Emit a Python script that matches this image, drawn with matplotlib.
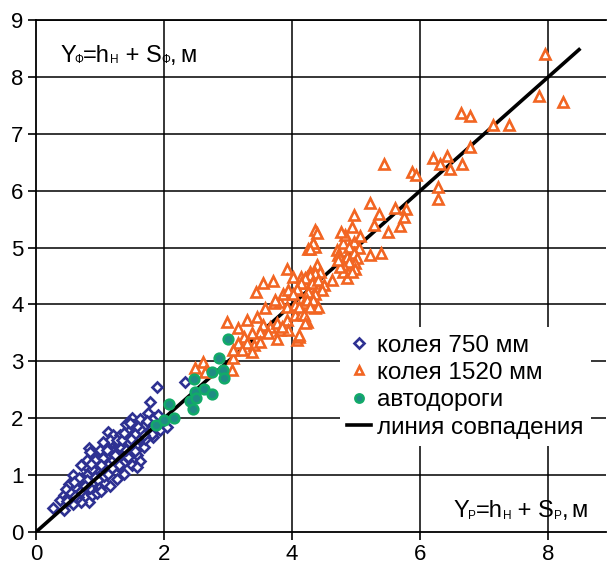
import matplotlib
matplotlib.use("Agg")
import matplotlib.pyplot as plt
from matplotlib.lines import Line2D
from matplotlib import transforms

plt.rcParams['font.family'] = ['Liberation Sans', 'DejaVu Sans']

# колея 750 мм
blue_x = [0.27, 0.44, 0.375, 0.43, 0.50, 0.56, 0.58, 0.64, 0.69, 0.74, 0.77, 0.82, 0.87, 0.90,
          0.92, 0.84, 0.79, 0.82, 1.00, 1.10, 1.16, 1.23, 1.21, 1.16, 1.03, 0.97, 1.08, 1.16,
          1.26, 1.29, 0.92, 0.71, 0.58, 0.66, 0.74, 0.79, 1.00, 0.90, 0.71, 1.89, 1.78, 1.50,
          1.63, 1.75, 1.13, 1.21, 1.31, 1.42, 1.52, 1.60, 1.70, 1.78, 1.89, 1.94, 1.75, 1.63,
          1.52, 1.42, 1.57, 1.68, 1.47, 1.36, 1.26, 1.16, 1.10, 1.21, 1.34, 1.44, 1.57, 1.63,
          1.50, 1.36, 1.00, 0.84, 0.79, 0.92, 1.05, 1.18, 1.29, 2.04, 2.33, 1.57, 1.83, 0.62,
          0.52, 0.47, 0.68, 0.85, 0.95, 1.06, 1.12, 1.38, 1.30, 1.45, 1.55, 1.70, 1.85, 1.40,
          1.05, 1.47, 1.60, 0.55, 0.61, 0.72, 0.80, 0.88, 0.98, 1.02, 1.13, 1.24, 1.33, 1.41,
          1.48, 1.66, 1.73, 1.81, 0.67, 0.76, 0.86, 0.95, 1.11, 1.19, 1.27, 1.35, 1.54, 1.69,
          0.49, 0.60, 1.02, 1.38, 1.90]
blue_y = [0.42, 0.39, 0.56, 0.65, 0.62, 0.74, 1.00, 0.91, 0.80, 0.71, 0.62, 0.53, 0.65, 0.86,
          0.97, 1.06, 1.15, 1.47, 1.38, 1.32, 1.56, 1.53, 1.27, 1.09, 1.06, 0.91, 0.86, 0.80,
          0.94, 1.15, 0.74, 0.53, 0.50, 0.62, 0.88, 1.00, 1.21, 1.30, 1.18, 2.55, 2.29, 2.00,
          1.98, 2.09, 1.76, 1.70, 1.70, 1.79, 1.88, 1.82, 1.88, 1.79, 1.88, 1.79, 1.73, 1.65,
          1.59, 1.65, 1.50, 1.50, 1.47, 1.53, 1.56, 1.62, 1.47, 1.41, 1.35, 1.32, 1.35, 1.24,
          1.18, 1.21, 1.44, 1.41, 1.27, 1.27, 1.30, 1.24, 1.18, 1.84, 2.63, 1.15, 1.67, 0.78,
          0.85, 0.75, 0.70, 0.78, 1.12, 0.98, 1.17, 1.02, 1.42, 1.58, 1.72, 1.63, 2.00, 1.90,
          1.58, 1.91, 1.85, 0.68, 0.64, 0.95, 0.92, 1.10, 0.78, 1.18, 1.02, 1.36, 1.48, 1.44,
          1.64, 1.78, 1.95, 1.72, 0.95, 0.80, 1.20, 0.68, 1.44, 1.12, 1.62, 1.62, 1.42, 1.70,
          0.55, 0.88, 0.72, 1.74, 2.05]

# колея 1520 мм
orange_x = [2.48, 2.60, 2.64, 3.06, 3.08, 2.98, 3.16, 3.29, 3.45, 3.58, 3.71, 3.81, 3.92, 4.05,
            3.55, 3.66, 3.50, 3.37, 3.24, 3.16, 3.29, 3.08, 3.21, 3.40, 3.37, 3.50, 3.63, 3.76,
            3.81, 3.92, 3.94, 4.05, 4.07, 4.25, 4.36, 3.92, 3.55, 3.70, 3.44, 3.73, 3.86, 3.94,
            4.07, 4.18, 4.23, 4.33, 4.13, 4.28, 4.39, 4.18, 4.13, 4.23, 4.36, 4.10, 3.76, 3.84,
            4.80, 4.96, 4.88, 5.04, 4.70, 4.72, 4.75, 4.85, 4.96, 5.01, 4.98, 4.88, 4.80, 4.80,
            4.85, 4.75, 4.72, 4.98, 4.93, 4.83, 4.39, 4.44, 4.36, 4.28, 4.20, 4.13, 4.07, 4.02,
            4.31, 4.41, 4.49, 4.46, 4.36, 4.25, 4.23, 4.33, 4.41, 4.28, 4.10, 4.18, 4.20, 4.10,
            4.62, 5.22, 5.39, 4.02, 5.21, 5.61, 5.78, 4.96, 5.36, 5.74, 5.28, 5.69, 4.93, 4.36,
            4.39, 4.77, 5.50, 5.06, 4.33, 4.28, 5.43, 5.87, 5.94, 7.95, 7.85, 8.23, 6.64, 6.78,
            7.14, 7.38, 6.78, 6.20, 6.42, 6.31, 6.47, 6.65, 6.28, 6.27]
orange_y = [2.88, 2.99, 2.82, 2.85, 3.05, 3.70, 3.58, 3.73, 3.78, 3.93, 4.02, 4.05, 3.96, 3.99,
            3.64, 3.61, 3.52, 3.49, 3.43, 3.32, 3.32, 3.20, 3.20, 3.29, 3.17, 3.34, 3.49, 3.67,
            3.55, 3.73, 3.55, 3.81, 3.37, 4.97, 5.01, 4.62, 4.37, 4.42, 4.21, 4.08, 4.19, 4.25,
            4.25, 4.37, 4.49, 4.43, 4.49, 4.57, 4.31, 4.02, 3.84, 3.70, 3.93, 3.43, 3.40, 3.61,
            5.08, 5.10, 5.01, 4.99, 4.96, 4.87, 4.81, 4.84, 4.90, 4.81, 4.72, 4.75, 4.69, 4.57,
            4.46, 4.66, 4.78, 4.63, 4.57, 5.22, 4.69, 4.57, 4.55, 4.52, 4.46, 4.37, 4.28, 4.19,
            4.37, 4.43, 4.34, 4.25, 4.19, 4.22, 4.08, 4.08, 3.96, 3.96, 3.96, 3.81, 3.67, 3.46,
            4.43, 4.87, 4.90, 4.49, 5.78, 5.69, 5.68, 5.57, 5.59, 5.53, 5.39, 5.38, 5.36, 5.31,
            5.25, 5.28, 5.28, 5.20, 5.08, 4.97, 6.47, 6.32, 6.27, 8.40, 7.66, 7.56, 7.36, 7.31,
            7.15, 7.15, 6.77, 6.57, 6.61, 6.47, 6.38, 6.47, 6.07, 5.86]

# автодороги
green_x = [1.87, 2.00, 2.08, 2.16, 2.40, 2.45, 2.47, 2.48, 2.50, 2.63, 2.75, 2.75, 2.86, 2.92,
           2.94, 3.00]
green_y = [1.88, 1.97, 2.25, 2.00, 2.30, 2.16, 2.69, 2.46, 2.35, 2.51, 2.43, 2.81, 3.05, 2.85,
           2.70, 3.39]

# линия совпадения
line_x = [0.0, 8.5]
line_y = [0.0, 8.5]

x_ticks = [0, 2, 4, 6, 8]
y_ticks = [0, 1, 2, 3, 4, 5, 6, 7, 8, 9]

legend_labels = ['колея 750 мм', 'колея 1520 мм', 'автодороги', 'линия совпадения']
# formula pieces: (text, kind) kind: 'n' normal, 's' subscript, 'g' small gap
formula_f = [('Y', 's0'), ('Ф', 's'), ('=h', 'n'), ('Н', 's'), (' + S', 'n'), ('Ф', 's'), (',', 'n'), (' ', 'g'), ('м', 'n')]
formula_p = [('Y', 's0'), ('Р', 's'), ('=h', 'n'), ('Н', 's'), (' + S', 'n'), ('Р', 's'), (',', 'n'), (' ', 'g'), ('м', 'n')]

BLUE = '#2E3192'
ORANGE = '#F26522'
GREEN_EDGE = '#12AA68'
GREEN_FACE = '#1F8C84'

fig = plt.figure(figsize=(6.08, 5.70), dpi=100)
ax = fig.add_axes([36/608, 38/570, 570/608, 512/570])

ax.set_xlim(0, 8.9)
ax.set_ylim(0, 9)
ax.set_xticks(x_ticks)
ax.set_yticks(y_ticks)
ax.tick_params(axis='both', direction='out', length=6, width=1.2, labelsize=16, pad=3, colors='black')

for y in y_ticks[1:]:
    ax.axhline(y, color='black', lw=1.1, zorder=1)
for x in x_ticks[1:]:
    ax.axvline(x, color='black', lw=1.1, zorder=1)

for s in ['left', 'bottom', 'top']:
    ax.spines[s].set_linewidth(1.3)
ax.spines['right'].set_visible(False)

ax.plot(blue_x, blue_y, linestyle='none', marker='D', markersize=5.6, markerfacecolor='white',
        markeredgecolor=BLUE, markeredgewidth=1.9, zorder=3)
ax.plot(line_x, line_y, color='black', lw=2.6, solid_capstyle='butt', zorder=4)
ax.plot(orange_x, orange_y, linestyle='none', marker='^', markersize=7.0, markerfacecolor='white',
        markeredgecolor=ORANGE, markeredgewidth=1.9, zorder=5)
ax.plot(green_x, green_y, linestyle='none', marker='o', markersize=7.0, markerfacecolor=GREEN_FACE,
        markeredgecolor=GREEN_EDGE, markeredgewidth=1.8, zorder=6)

renderer = fig.canvas.get_renderer()


def draw_formula(x, y, pieces, size=17, subsize=8.5):
    off = 0.0
    for txt, kind in pieces:
        if kind == 's':
            fs, dy = subsize, -1.0
        elif kind == 'g':
            fs, dy = 9, 0.0
        else:
            fs, dy = size, 0.0
        tr = transforms.offset_copy(ax.transData, fig=fig, x=off, y=dy, units='points')
        t = ax.text(x, y, txt, transform=tr, fontsize=fs, ha='left', va='baseline', zorder=8)
        w = t.get_window_extent(renderer).width * 72.0 / fig.dpi
        if kind == 's0':
            w -= 1.0
        off += w


draw_formula(0.375, 8.26, formula_f)
draw_formula(6.52, 0.26, formula_p)

handles = [
    Line2D([], [], linestyle='none', marker='D', markersize=5.0, markerfacecolor='white',
           markeredgecolor=BLUE, markeredgewidth=1.9),
    Line2D([], [], linestyle='none', marker='^', markersize=6.0, markerfacecolor='white',
           markeredgecolor=ORANGE, markeredgewidth=1.9),
    Line2D([], [], linestyle='none', marker='o', markersize=6.0, markerfacecolor=GREEN_FACE,
           markeredgecolor=GREEN_EDGE, markeredgewidth=1.8),
    Line2D([], [], color='black', lw=2.6),
]
leg = ax.legend(handles, legend_labels, loc='upper left', bbox_to_anchor=(0.533, 0.400),
                borderaxespad=0, frameon=True, fancybox=False, framealpha=1,
                facecolor='white', edgecolor='none', fontsize=17.5, handlelength=1.0,
                handletextpad=0.25, labelspacing=0.225, borderpad=0.3)
leg.set_zorder(10)

fig.savefig('out.png', dpi=100)
